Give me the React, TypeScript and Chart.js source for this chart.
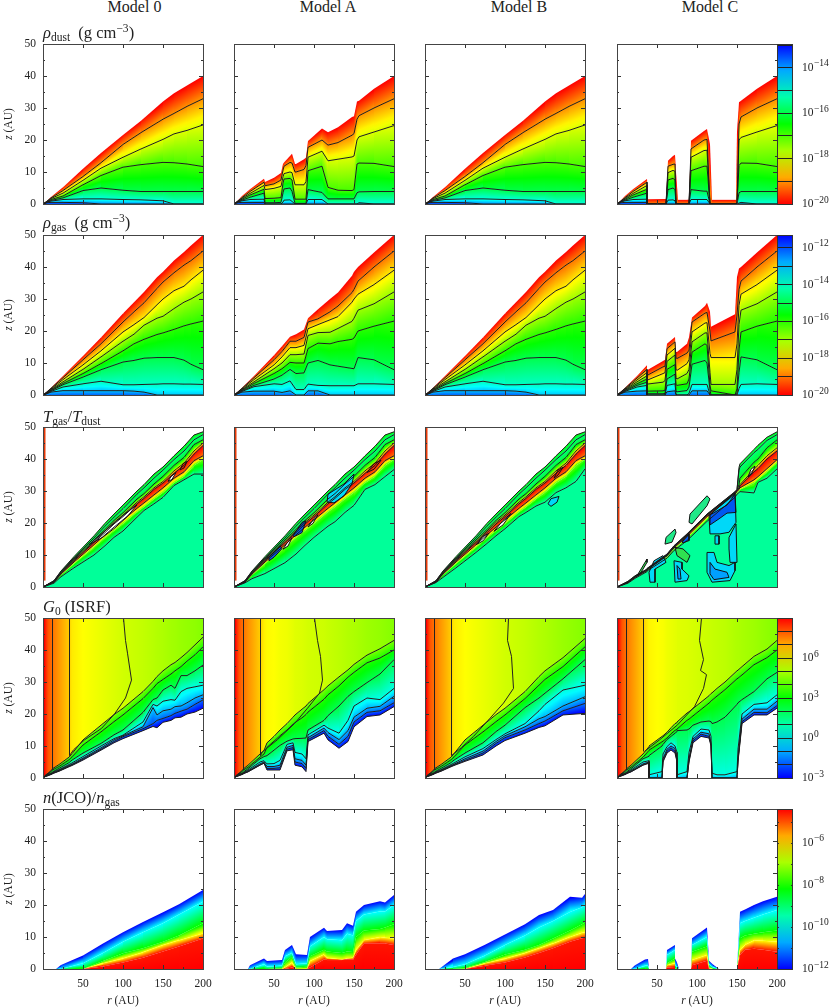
import React, { useEffect, useRef } from "react";
import { Chart, registerables } from "chart.js";

Chart.register(...registerables);

const FONT = "'Liberation Serif', serif";
const INK = "#222";
const COL_X = [43, 234, 425, 617];
const ROW_Y = [44, 235, 427, 618, 809];
const MODELS = ["Model 0", "Model A", "Model B", "Model C"];
const MODEL_CX = [134.5, 328, 519, 710];
const X_LABELS = [50, 100, 150, 200];
const Y_MAJOR = [0, 10, 20, 30, 40, 50];
const Y_MINOR = [5, 15, 25, 35, 45];
const X_MAJOR = [50, 100, 150];
const X_MINOR = [25, 75, 125, 175];

// ---- rho_dust (levels: ground, 1e-14 ... 1e-19, surface 1e-20)
const dustV = [0.95, 0.857, 0.714, 0.571, 0.429, 0.286, 0.143, 0];
const dustC = [false, true, true, true, true, true, true, false];
const d0R = [0, 5, 10, 25, 50, 72, 100, 122, 150, 164, 180, 200];
const d0S = [0, 1, 2.2, 5.2, 11, 15.9, 21.6, 26, 32, 34.6, 37, 40];
const d019 = [0, 0.9, 1.9, 4.2, 8.6, 12.9, 18.6, 22.3, 26.5, 28.3, 30.5, 32.9];
const d018 = [0, 0.8, 1.7, 3.4, 7.4, 11.2, 14.6, 17.2, 20.2, 21.9, 23, 24.7];
const d017 = [0, 0.7, 1.4, 2.5, 6, 8.9, 11.5, 12.3, 13, 12.9, 12.5, 11.7];
const d016 = [0, 0.6, 1.1, 1.9, 4.2, 5, 4.3, 3.9, 3.9, 3.9, 3.9, 3.9];
const d015 = [0, 0.5, 0.9, 1.4, 1.6, 1.6, 1.4, 1.3, 1, 0, 0, 0];
const d014 = [0, 0.4, 0.5, 0.5, 0.4, 0, 0, 0, 0, 0, 0, 0];

const dAR = [0, 5, 10, 20, 37, 39, 50, 59, 61, 63, 70, 73, 76, 78, 88, 90, 93, 110, 118, 130, 148, 150, 154, 156, 175, 200];
const dAS = [0, 1.2, 2.5, 4.6, 7.9, 6.9, 8.2, 9.7, 12.5, 13, 15, 15.7, 12.5, 12.5, 14, 14.5, 19.7, 23.6, 22.4, 24, 27.2, 27.4, 32, 32.3, 36, 40];
const dA19 = [0, 1, 2, 3.9, 6.8, 5.7, 6.3, 7.5, 10.6, 11.8, 13, 12.8, 10, 10, 10.8, 12, 17.7, 20, 18.4, 19.2, 21.5, 22, 26.5, 27.6, 30, 32.9];
const dA18 = [0, 0.9, 1.8, 3.3, 5.8, 4.5, 4.9, 5.5, 8.5, 9.5, 10, 9.8, 6, 6, 6, 7, 14.6, 16.5, 13.5, 14, 14.7, 15, 20, 21, 22.5, 24.5];
const dA17 = [0, 0.8, 1.5, 2.8, 4.6, 1.7, 1.8, 2, 6.5, 7.8, 8, 7.5, 1.5, 1.5, 1.5, 1.5, 10.4, 11.8, 5.2, 4.3, 4.2, 4.5, 12.5, 12.8, 12.7, 11.7];
const dA16 = [0, 0.7, 1.2, 2.1, 3.4, 0.4, 0.4, 0.5, 3.5, 4.7, 5, 4, 0.2, 0.2, 0.2, 0.2, 4.5, 3.6, 1.6, 1.6, 1.6, 1.6, 3.5, 3.8, 3.9, 3.9];
const dA15 = [0, 0.6, 1, 1.4, 1.5, 0, 0, 0, 0.6, 1.2, 1.3, 0.8, 0, 0, 0, 0, 1.4, 1.4, 0, 0, 0, 0, 0, 0.4, 0, 0];
const dA14 = [0, 0.4, 0.5, 0.5, 0.5, 0, 0, 0, 0, 0, 0, 0, 0, 0, 0, 0, 0, 0, 0, 0, 0, 0, 0, 0, 0, 0];

const dCR = [0, 5, 10, 20, 37, 38, 39, 59, 61, 64, 70, 72, 74, 76, 88, 90, 93, 109, 113, 116, 119, 149, 150, 152, 155, 175, 200];
const dCS = [0, 1.2, 2.5, 4.6, 7.8, 7.8, 1.5, 1.6, 1.6, 13.5, 15, 15.4, 10, 1.3, 1.3, 1.3, 19.8, 22.8, 23.4, 18.7, 1.3, 1.3, 22.6, 31.8, 32.3, 36, 40];
const dC19 = [0, 1, 2, 3.9, 6.8, 0, 0, 0, 0, 11.8, 12.4, 12.5, 0, 0, 0, 0, 17.2, 20, 20.2, 0, 0, 0, 0, 25, 27.2, 30, 32.9];
const dC18 = [0, 0.9, 1.8, 3.3, 5.8, 0, 0, 0, 0, 9.8, 10.5, 10.2, 0, 0, 0, 0, 14.6, 16.7, 16.8, 0, 0, 0, 0, 20, 20.8, 22.5, 24.5];
const dC17 = [0, 0.8, 1.5, 2.8, 4.6, 0, 0, 0, 0, 7.5, 8, 7.5, 0, 0, 0, 0, 10.4, 11.8, 11.8, 0, 0, 0, 0, 12, 12.8, 12.7, 11.7];
const dC16 = [0, 0.7, 1.2, 2.1, 3.4, 0, 0, 0, 0, 4.5, 5, 4.5, 0, 0, 0, 0, 4.5, 4, 4, 0, 0, 0, 0, 3.5, 3.9, 3.9, 3.9];
const dC15 = [0, 0.6, 1, 1.4, 1.5, 0, 0, 0, 0, 1.2, 1.3, 1, 0, 0, 0, 0, 1.4, 1.4, 1.4, 0, 0, 0, 0, 0.3, 0.5, 0, 0];
const dC14 = [0, 0.4, 0.5, 0.5, 0.5, 0, 0, 0, 0, 0, 0, 0, 0, 0, 0, 0, 0, 0, 0, 0, 0, 0, 0, 0, 0, 0, 0];

// ---- rho_gas
const gasV = [0.9, 0.805, 0.69, 0.575, 0.46, 0.345, 0.23, 0.115, 0];
const gasC = [false, true, true, true, true, true, true, true, false];
const g0R = [0, 5, 10, 25, 50, 72, 100, 114, 126, 143, 150, 164, 176, 185, 200];
const g0S = [0, 1.1, 2.3, 5.9, 12.2, 18, 25.5, 29, 32.2, 36.8, 38.5, 42, 44.7, 46.7, 50];
const g019 = [0, 1, 2.1, 5.4, 11, 16, 22.8, 26, 28.8, 33.3, 35.3, 38.2, 40.6, 42, 45];
const g018 = [0, 0.9, 1.9, 4.8, 9.4, 13.8, 19.7, 22, 24.2, 28.2, 30, 32.6, 34, 36, 39];
const g017 = [0, 0.8, 1.7, 4.1, 8, 11.9, 16.8, 19, 21.8, 24, 24.6, 27, 29, 30, 32.2];
const g016 = [0, 0.7, 1.5, 3.6, 6.7, 9.8, 13.8, 16, 17.4, 18.9, 19.4, 20.5, 21.6, 22.2, 23.1];
const g015 = [0, 0.6, 1.3, 3.2, 5.6, 7.9, 10.3, 10.8, 11.5, 11.7, 11.7, 11.7, 10.9, 9.6, 7.9];
const g014 = [0, 0.5, 1.1, 2.5, 3.5, 4.3, 3.2, 3.2, 3.3, 3.4, 3.5, 3.5, 3.4, 3.4, 3.3];
const g013 = [0, 0.4, 0.9, 1.35, 1.35, 1.35, 1.35, 1.2, 0.9, 0, 0, 0, 0, 0, 0];

const gAR = [0, 5, 10, 25, 50, 60, 70, 78, 88, 93, 105, 120, 130, 147, 150, 155, 175, 200];
const gAS = [0, 1.1, 2.3, 5.9, 12.4, 15.2, 18.2, 19, 20.5, 24, 26.8, 30, 32, 37.3, 38.5, 40, 44.5, 50];
const gA19 = [0, 1, 2.1, 5.4, 11, 13.6, 16.8, 16.8, 18, 22.8, 23.8, 26, 27.8, 32, 33, 35.6, 40, 45];
const gA18 = [0, 0.9, 1.9, 4.8, 9.4, 11.9, 14.8, 14.8, 15.5, 20.7, 22, 23.5, 24.5, 29, 30, 31.5, 34.5, 39];
const gA17 = [0, 0.8, 1.7, 4.1, 8.2, 10, 12.6, 12.6, 12.8, 18.6, 19.5, 19.6, 20.8, 23, 24, 26.5, 28.5, 32.2];
const gA16 = [0, 0.7, 1.5, 3.6, 6.7, 8.2, 10.2, 10, 10, 14.5, 16.2, 16, 16.7, 17.4, 17.8, 20, 21.5, 23.1];
const gA15 = [0, 0.6, 1.3, 3, 5, 6.2, 8, 6.7, 6.9, 10, 10.8, 9.4, 9, 8.3, 8.2, 11.7, 11, 7.9];
const gA14 = [0, 0.5, 1.1, 2.6, 3.5, 3.3, 4.4, 1.7, 1.7, 3.4, 3, 2.9, 2.9, 2.9, 2.9, 3.5, 3.5, 3.3];
const gA13 = [0, 0.4, 0.9, 1.2, 1.2, 0.8, 1.3, 0, 0, 1.3, 1.3, 0, 0, 0, 0, 0, 0, 0];

const gCR = [0, 5, 10, 25, 37, 38, 58, 60, 63, 72, 74, 75, 87, 90, 94, 110, 113, 116, 117, 148, 150, 152, 155, 175, 200];
const gCS = [0, 1.1, 2.3, 5.9, 9.3, 7.7, 10.6, 11, 16, 18.1, 13.4, 13.4, 16, 18, 24.2, 27.8, 28.8, 26, 21.3, 25.2, 36.9, 39.5, 40, 44.5, 50];
const gC19 = [0, 1, 2.1, 5.3, 8, 6.1, 8.8, 9, 14.5, 16.6, 11.6, 11.4, 13.1, 14, 22.8, 25.6, 25.8, 20, 16.9, 19.7, 25, 33, 35.6, 40, 45];
const gC18 = [0, 0.9, 1.9, 4.7, 7, 4.6, 6.7, 7, 12.5, 14.6, 8, 7.7, 9.8, 11, 19.7, 22.5, 22.6, 13, 11.7, 11.7, 16, 28, 31.5, 34.5, 39];
const gC17 = [0, 0.8, 1.7, 4.1, 6, 3.4, 4, 4.5, 10.5, 12.5, 5.4, 5, 6.7, 8, 16.6, 19.4, 19.4, 7, 3.3, 3.3, 8, 22, 26.5, 28.5, 32.2];
const gC16 = [0, 0.7, 1.5, 3.5, 5, 1.2, 1.3, 1.5, 8, 9.5, 3.2, 3, 3.5, 5, 13.4, 16, 15.5, 3, 1.3, 0, 2, 14, 19.7, 21.5, 23.1];
const gC15 = [0, 0.6, 1.3, 3, 4, 0.4, 0.4, 0.5, 5, 6.5, 1.2, 1, 1.4, 2.5, 9.6, 10.8, 10, 1.5, 0, 0, 0.5, 7, 11.9, 11, 7.9];
const gC14 = [0, 0.5, 1.1, 2.5, 3, 0, 0, 0, 3, 3.5, 0.3, 0, 0, 0.5, 3.3, 3.3, 3.3, 0, 0, 0, 0, 2, 3.3, 3.5, 3.3];
const gC13 = [0, 0.4, 0.9, 1.2, 1.3, 0, 0, 0, 1, 1.3, 0, 0, 0, 0, 1.3, 1.3, 1.3, 0, 0, 0, 0, 0, 0, 0, 0];

// ---- Tgas/Tdust
const tV = [0.65, 0.65, 0.42, 0.1, 0, 0.3, 0.55, 0.62, 0.5];
const tC = [false, true, false, true, true, true, true, true, true];
const tR = [0, 14, 22, 39, 64, 78, 89, 100, 118, 126, 139, 150, 164, 176, 189, 200];
const tS = [0, 2, 5, 9.5, 16, 19.9, 22.8, 25.6, 30, 32, 35.3, 37.5, 41, 44, 47.5, 48.5];
const t6 = [0, 1.9, 4.8, 9.1, 15.3, 19, 21.8, 24.5, 29, 31, 34, 36.5, 39.8, 42.5, 46, 47.6];
const t5 = [0, 1.8, 4.6, 8.8, 14.7, 18, 20.8, 23.2, 27.5, 29.2, 32.2, 34.6, 38, 40.5, 44.5, 46];
const t4 = [0, 1.7, 4.4, 8.5, 14.2, 17.5, 20.2, 22.5, 26.5, 28.2, 31, 33, 36.3, 38.7, 42.5, 45];
const t3 = [0, 1.6, 4.2, 8.2, 13.9, 17, 19.7, 22, 26, 27.7, 30.5, 32.5, 35.5, 38, 41.5, 44.2];
const t2 = [0, 1.5, 4, 7.8, 13.2, 16.3, 18.7, 21, 24.6, 26.3, 28.8, 31, 34, 36, 39.5, 41];
const t1 = [0, 1.4, 3.7, 7.3, 12.4, 15.4, 17.6, 19.8, 23.4, 25, 27.5, 29.5, 32.5, 34.5, 38, 39.8];
const t00 = [0, 1.2, 3.2, 6, 10, 12.9, 15.5, 17.5, 21.8, 23.9, 26, 28, 31.7, 33.5, 35.3, 35.3];
const t0A = [0, 1.3, 2.6, 4.2, 7.6, 10.3, 13, 15.5, 19, 20.4, 23.3, 25.5, 30.5, 32, 34.5, 36.7];
const t0B = [0, 1.4, 3, 6, 10.8, 13.6, 16, 18.2, 22, 23.3, 25.3, 26.5, 29.5, 31, 33, 36.9];

const tCR = [0, 14, 22, 37, 38, 62, 71, 87, 112, 148, 150, 152, 154, 171, 176, 187, 200];
const tCS = [0, 1.8, 3.5, 5.6, 5.8, 10.3, 12.9, 16.6, 22.8, 29.8, 30.5, 37.4, 38.5, 43, 44.3, 46.8, 48.5];
const tC6 = [0, 1.7, 3.4, 5.5, 5.7, 10.2, 12.8, 16.5, 22.7, 29.7, 30.4, 36.5, 37.5, 42, 43, 45.8, 47.6];
const tC5 = [0, 1.6, 3.3, 5.4, 5.6, 10.1, 12.7, 16.4, 22.6, 29.6, 30.3, 32, 34, 39, 40, 43.5, 46];
const tC4 = [0, 1.5, 3.2, 5.3, 5.5, 10, 12.6, 16.3, 22.5, 29.5, 30.2, 31, 32, 36.8, 38, 41, 43.5];
const tC3 = [0, 1.45, 3.1, 5.25, 5.4, 9.9, 12.5, 16.2, 22.4, 29.4, 30.1, 30.8, 31.6, 36, 37, 40, 42.5];
const tC2 = [0, 1.4, 3, 5.2, 5.3, 9.7, 12.2, 15.8, 22, 29, 29.8, 30.5, 31, 33.5, 34.5, 37, 39.8];
const tC1 = [0, 1.3, 2.9, 5.1, 5.2, 9.4, 11.8, 15.2, 21.2, 28.5, 29.4, 30, 30.4, 32.5, 33.5, 36, 38.8];
const tC0 = [0, 1.2, 2.7, 4.8, 5, 9, 11.4, 14.5, 20.5, 28, 29, 29.5, 29.8, 29.4, 32.7, 34, 36.9];

const WHITE = "#ffffff";
const CYAN = "#00d8f8";
const BLUE = "#0058f0";
const MID = "#00a0ff";
const GRN = "#30e050";
const ISLE = "#20e888";
const RED = "#ff2000";
const tBlobs0 = [
  { fill: WHITE, pts: [[58, 13.2], [75, 17], [90, 20.2], [105, 23.4], [118, 25.7], [105, 21.9], [90, 18.5], [75, 15.6]] },
  { fill: WHITE, pts: [[156, 33], [160, 34.5], [166, 35.8], [161, 33.6]] },
  { fill: RED, pts: [[171, 36.6], [175, 38.6], [180, 39.2], [176, 37.2]] },
];
const tBlobsA = [
  { fill: CYAN, pts: [[116, 26.5], [118, 29], [137, 32.2], [149.6, 35.3], [147.5, 32.2], [137, 28.5], [124.6, 26.3]] },
  { fill: BLUE, pts: [[73.8, 16], [85, 20.2], [90.4, 20.7], [85, 17], [74.6, 15.7]] },
  { fill: BLUE, pts: [[43.3, 9.3], [58, 12.9], [60, 12], [49.6, 9.3], [43.3, 8.2]] },
  { fill: WHITE, pts: [[92, 18.8], [100, 21.4], [105, 22.6], [99, 19.9]] },
  { fill: WHITE, pts: [[61, 11.8], [67, 14.2], [73, 15.4], [67, 12.8]] },
  { fill: RED, pts: [[166, 35.8], [175, 38.6], [184, 39.6], [175, 36.8]] },
];
const tBlobsB = [
  { fill: WHITE, pts: [[86, 17.4], [97, 20.8], [108, 23], [97, 19.4]] },
  { fill: WHITE, pts: [[64, 13.2], [72, 15.8], [80, 16.8], [72, 14.4]] },
  { fill: CYAN, pts: [[154, 26], [157, 27.6], [168, 28.3], [165, 26.5], [157, 25.2]] },
  { fill: RED, pts: [[161, 34], [166, 36.6], [173, 37.4], [166, 35]] },
];
const tBlobsC = [
  { fill: BLUE, pts: [[115.8, 22.5], [137.5, 25.6], [148, 29], [149, 23.3], [137.5, 23.1], [127, 21.3], [116.7, 19.4]] },
  { fill: CYAN, pts: [[115, 22.3], [148, 29.4], [149, 20.2], [139.6, 17.1], [129, 16.6], [116, 16.6]] },
  { fill: MID, pts: [[116.7, 7.7], [123, 5.6], [137.5, 4.6], [139.6, 3], [120.8, 2.3], [116.7, 4.1]] },
  { fill: CYAN, pts: [[113, 10.8], [121, 10.8], [125, 7.7], [139.6, 6.7], [148, 7.7], [148, 5.1], [141.7, 2], [118.8, 1.5], [113, 4.6]] },
  { fill: CYAN, pts: [[139.6, 15.5], [149, 19.7], [150, 7.7], [141.7, 7.7], [139.6, 11.9]] },
  { fill: CYAN, pts: [[122, 16], [127, 16], [127, 13.4], [123, 13.4]] },
  { fill: MID, pts: [[75, 6.7], [79, 5.6], [80, 2.5], [75.8, 2.5]] },
  { fill: CYAN, pts: [[71.7, 8.2], [81, 7.7], [81, 5.6], [89.6, 3.5], [87.5, 2], [73, 1.5]] },
  { fill: CYAN, pts: [[39.6, 4.6], [45.8, 8.2], [58, 9.8], [61.7, 7.7], [48, 5.6], [48, 1.5], [41.7, 1.5]] },
  { fill: BLUE, pts: [[81, 14], [89.6, 16.6], [89.6, 14.5], [83, 13.8]] },
  { fill: GRN, pts: [[73, 12.4], [83, 11.9], [91.7, 9.8], [87.5, 7.7], [75, 9.8]] },
  { fill: ISLE, pts: [[59.6, 13.4], [61, 15.5], [73, 18.1], [74, 17], [68.8, 14]] },
  { fill: ISLE, pts: [[89.6, 20.2], [90.8, 22.8], [112.5, 28.5], [115.8, 27.5], [112.5, 25.4], [93.8, 19.7]] },
  { fill: GRN, pts: [[25, 3.5], [37.5, 8.75], [38, 7.7], [29, 4]] },
  { fill: WHITE, pts: [[164, 34.4], [168, 36.8], [173, 37.8], [169, 35.6]] },
];
const tRedR = [1, 1];
const tRedZ = [2, 50];

// ---- G0
const isrfV = [1, 0.9, 0.82, 0.72, 0.58, 0.47, 0.38, 0.38];
const isrfC = [true, true, true, true, true, true, true, false];
const f0R = [0, 3, 6, 11, 13, 20, 32.5, 36, 50, 72, 89, 100, 125, 137, 143, 150, 160, 165, 172, 180, 190, 200];
const f0Top = [-0.1, 0.02, 0.08, 0.11, 0.115, 0.15, 0.2, 0.23, 0.25, 0.27, 0.285, 0.295, 0.31, 0.32, 0.325, 0.33, 0.34, 0.343, 0.35, 0.355, 0.36, 0.37];
const f0Edge = [0, 0.4, 0.7, 1.2, 1.4, 2.1, 3.5, 3.9, 5.6, 8.7, 11, 12.3, 14.8, 16.1, 15.7, 17.4, 18, 18.8, 19, 20, 20.6, 21.8];
const f06 = [0, 0.45, 0.8, 1.3, 1.5, 2.2, 3.7, 4.1, 5.9, 9, 11.4, 12.9, 15.4, 17, 18, 18.6, 19.5, 20.2, 20.9, 21.5, 23, 24.4];
const f05 = [0, 0.5, 0.9, 1.4, 1.6, 2.4, 3.9, 4.3, 6.2, 9.4, 11.9, 13.2, 16, 22, 19.7, 21, 21.5, 22.3, 22.5, 23.5, 25, 26];
const f04 = [0, 0.55, 1, 1.5, 1.8, 2.6, 4.2, 4.7, 6.7, 10, 12.3, 13.4, 17.5, 23, 22.5, 24, 24.5, 24.3, 27, 28, 28.5, 29];
const f03 = [0, 0.6, 1.1, 1.7, 2, 3, 4.8, 5.6, 7.8, 10.8, 13.5, 15, 20.5, 24.5, 25, 27.5, 29, 28, 32, 32, 33.5, 35.3];
const f02 = [0, 0.7, 1.3, 2.3, 2.6, 3.6, 5.7, 6.6, 10.3, 14.4, 17.6, 19.7, 24.8, 28, 29.5, 30.8, 32.5, 33.5, 34.8, 36.5, 38.5, 41];
const f01 = [0, 0.8, 1.5, 2.6, 3, 4.2, 6.5, 7.6, 11.9, 16.5, 19.8, 21.8, 27, 30.2, 31.7, 33.5, 35.4, 36.1, 37.6, 39.2, 41.6, 44];

const fR = [0, 3, 6, 11, 13, 20, 32.5, 36, 50, 72, 89, 100, 125, 143, 150, 172, 200];
const fTop = [-0.1, 0.02, 0.08, 0.11, 0.115, 0.15, 0.2, 0.23, 0.25, 0.27, 0.285, 0.295, 0.31, 0.325, 0.33, 0.35, 0.37];
const fEdgeB = [0, 0.4, 0.7, 1.2, 1.4, 2.1, 3.5, 3.9, 5.2, 7.2, 10, 11.7, 14, 15.8, 16.3, 19.7, 20.2];
const fB6 = [0, 0.45, 0.8, 1.3, 1.5, 2.2, 3.7, 4.1, 5.5, 7.8, 10.8, 12.6, 15, 17, 17.8, 21, 23.3];
const fB5 = [0, 0.5, 0.9, 1.4, 1.6, 2.4, 3.9, 4.3, 6, 8.4, 11.4, 13.2, 16, 18.5, 19.2, 22.5, 25.4];
const fB4 = [0, 0.55, 1, 1.5, 1.8, 2.6, 4.2, 4.7, 6.6, 9.2, 12, 13.8, 17, 21, 23, 27.5, 29];
const fB3 = [0, 0.6, 1.1, 1.7, 2, 3, 4.8, 5.6, 7.8, 11, 14.5, 16.5, 22, 25, 26.5, 31, 37];
const fB2 = [0, 0.7, 1.3, 2.3, 2.6, 3.6, 5.7, 6.6, 10.3, 14.4, 17.6, 19.7, 24.8, 29, 30.8, 34.8, 41];
const fB1 = [0, 0.8, 1.5, 2.6, 3, 4.2, 6.5, 7.6, 11.9, 16.5, 19.8, 21.8, 27, 31.7, 33.5, 37.6, 43.6];

const fAR = [0, 3, 6, 11, 13, 18, 32.5, 37, 41, 50, 58, 66, 74, 76, 85, 90, 93, 112, 118, 131, 143, 150, 166, 183, 200];
const fATop = [-0.1, 0.02, 0.08, 0.11, 0.115, 0.14, 0.2, 0.235, 0.245, 0.25, 0.26, 0.265, 0.275, 0.28, 0.285, 0.29, 0.293, 0.3, 0.305, 0.315, 0.325, 0.33, 0.345, 0.355, 0.37];
const fAEdge = [0, 0.4, 0.7, 1.2, 1.4, 1.9, 4, 4.6, 2.5, 2.5, 2.5, 8.5, 8.8, 4, 3.5, 2, 11.4, 14, 11.9, 9.3, 11.4, 16, 19.2, 19.7, 22.3];
const fA6 = [0, 0.45, 0.8, 1.3, 1.5, 2, 4.1, 4.7, 3, 3, 3.2, 9, 9.5, 5, 4.5, 3, 12, 14.8, 13, 10.5, 13, 17.5, 20.5, 21, 23.5];
const fA5 = [0, 0.5, 0.9, 1.4, 1.6, 2.2, 4.4, 5, 3.6, 3.6, 4, 9.6, 10.2, 6, 5.5, 4, 12.6, 15.6, 14.2, 12, 14.8, 19, 21.8, 22.4, 25.5];
const fA4 = [0, 0.55, 1, 1.5, 1.8, 2.5, 5, 5.4, 4.4, 4.5, 5.5, 10.5, 11, 8, 7.5, 6, 13.5, 16.5, 15.6, 14, 18, 22.5, 25, 24.5, 28];
const fA3 = [0, 0.6, 1.1, 1.7, 2, 2.9, 6, 6.7, 7, 8.7, 10.2, 11.5, 12.2, 12.3, 12.4, 12.5, 15, 18, 19.5, 22.5, 25.5, 27, 29.8, 32.5, 37];
const fA2 = [0, 0.7, 1.3, 2.3, 2.6, 3.4, 6.5, 7.5, 9.6, 11.5, 13.2, 15, 16.8, 17.3, 18.8, 19.8, 20.6, 24.6, 26, 28.8, 31.5, 33, 36, 37.5, 40];
const fA1 = [0, 0.8, 1.5, 2.6, 3, 4, 7.5, 8.6, 11, 13, 15, 17, 19, 19.7, 21.5, 22.5, 23.3, 27.6, 28.8, 31.6, 33.8, 35.5, 38.4, 40.4, 43];

const fCR = [0, 3, 6, 11, 13, 18, 32.5, 39.6, 40, 56, 57, 62, 68, 73, 74.5, 75, 88, 90, 95, 105, 115, 118, 119, 125, 135, 150, 151, 156, 171, 187, 200];
const fCTop = [-0.1, 0.02, 0.08, 0.11, 0.115, 0.14, 0.2, 0.24, 0.24, 0.255, 0.255, 0.265, 0.27, 0.275, 0.278, 0.28, 0.285, 0.287, 0.29, 0.297, 0.303, 0.305, 0.306, 0.31, 0.315, 0.33, 0.33, 0.335, 0.345, 0.36, 0.37];
const fCEdge = [0, 0.4, 0.7, 1.2, 1.4, 1.9, 4, 4.6, 0, 0, 5, 7.8, 8.75, 7.8, 5, 0, 0, 5, 11, 13, 12.5, 10, 0, 0, 0, 0, 5, 17, 19.7, 19.7, 21.8];
const fC6 = [0, 0.45, 0.8, 1.3, 1.5, 2, 4.1, 4.8, 0, 0, 5.4, 8.4, 9.4, 8.4, 5.4, 0, 0, 5.4, 11.6, 13.7, 13, 10.4, 0, 0, 0, 0, 5.6, 17.6, 20.5, 20.4, 22.6];
const fC5 = [0, 0.5, 0.9, 1.4, 1.6, 2.2, 4.4, 5, 0, 0, 6, 9, 10, 9.2, 6, 0, 0, 6, 12.2, 14.3, 13.8, 11, 0, 0, 0, 0, 6, 18.4, 21.5, 21.5, 24];
const fC4 = [0, 0.55, 1, 1.5, 1.8, 2.5, 5, 5.4, 1, 2, 7.5, 9.8, 11, 10, 8, 1, 2, 8, 13, 15.3, 15, 13, 1.5, 1, 1, 2, 9, 20, 23, 23.5, 26];
const fC3 = [0, 0.6, 1.1, 1.7, 2, 2.9, 6, 6.8, 7, 10, 10.5, 12, 13, 14, 14.5, 14.8, 15, 15.3, 16.5, 17.5, 17.8, 17.6, 17, 17.5, 19, 23, 23.5, 24.5, 27, 31, 33];
const fC2 = [0, 0.7, 1.3, 2.3, 2.6, 3.4, 6.5, 8.6, 8.7, 11.3, 11.5, 12.5, 13.8, 14.9, 15.2, 15.3, 18, 18.4, 19.4, 21.4, 23.4, 24, 24.3, 25.6, 27.6, 31, 31.2, 32.2, 35.4, 37.6, 40];
const fC1 = [0, 0.8, 1.5, 2.6, 3, 4, 7.5, 9.8, 10, 13, 13.2, 14.3, 15.7, 17, 17.3, 17.5, 20.3, 20.7, 21.7, 23.7, 25.7, 26.4, 26.6, 28, 30, 33.5, 33.7, 34.8, 38, 40.3, 43];

const wave0R = [100, 102, 105, 110, 103, 89, 72, 51, 37, 32.5];
const wave0Z = [50, 43, 39, 30.6, 25, 20, 15.5, 11.9, 8.8, 7];
const waveAR = [100, 104, 107, 110, 106, 91, 74.6, 54, 35, 32];
const waveAZ = [50, 43, 38, 30.6, 26.5, 21.8, 17, 12, 8.2, 7];
const waveBR = [104, 102, 107, 110, 98, 80, 60, 45, 33];
const waveBZ = [50, 43, 38, 28, 23.4, 18.5, 13, 9.5, 7];
const waveCR = [105, 103, 107.5, 104, 111.7, 107.5, 96, 75, 52, 34];
const waveCZ = [50, 43, 37, 33.6, 32.3, 28, 22.3, 16.6, 11.9, 8.3];
const stemZ = [2.5, 50];
const stem1R = [11, 11];
const stem2R = [32.5, 32.5];

// ---- n(JCO)/n_gas
const coV = [0, 0.02, 0.25, 0.5, 0.75, 1];
const coC = [false, false, false, false, false, false];
const c0R = [0, 16, 22, 50, 75, 100, 125, 150, 170, 200];
const c0S = [0, 0, 1.25, 4.2, 8, 11.5, 14.7, 17.7, 20.2, 24.7];
const c0C = [0, 0, 0, 1.8, 5, 8.5, 11.5, 14.3, 17, 21];
const c0G = [0, 0, 0, 0, 2.5, 4.9, 6.5, 8.5, 10.5, 14.3];
const c0Y = [0, 0, 0, 0, 1.8, 3.3, 5.2, 7.5, 9, 11.1];
const c0O = [0, 0, 0, 0, 0.8, 2, 3.5, 5.5, 7, 9.5];
const cAR = [0, 18, 20, 37, 41, 60, 64, 72, 77, 91, 95, 112, 116, 135, 141, 149, 153, 162, 183, 189, 200];
const cAS = [0, 0, 1.2, 3.3, 2.5, 2.8, 5.9, 7.5, 4.6, 4.4, 10, 12.9, 11.9, 12.2, 14.3, 13.5, 17.9, 20, 21.2, 20.8, 23.1];
const cAC = [0, 0, 0, 1.5, 0.8, 1, 4, 5, 1.5, 1.8, 7, 10, 9.3, 9, 11, 10.5, 15, 17, 18, 18, 20];
const cAG = [0, 0, 0, 0, 0, 0.3, 2, 3.8, 0.5, 0.7, 4, 6, 5.5, 5, 5.5, 5.3, 10, 12, 12.5, 13, 14];
const cAY = [0, 0, 0, 0, 0, 0, 0.5, 2, 0, 0, 2.5, 4.5, 3.5, 3, 3.3, 3.5, 6, 9, 10, 9.8, 9.5];
const cAO = [0, 0, 0, 0, 0, 0, 0, 0.5, 0, 0, 0.5, 3, 2.8, 2.8, 3, 3, 4.5, 8, 8, 8, 7.5];
const cBR = [0, 17, 35, 50, 75, 100, 125, 142, 160, 181, 196, 200];
const cBS = [0, 0, 3.3, 4.6, 7.6, 10.8, 14, 16.9, 18.4, 22.6, 22.3, 23.4];
const cBC = [0, 0, 0.6, 1.5, 4.2, 7.5, 10.5, 13, 15, 17.8, 19.3, 20];
const cBG = [0, 0, 0, 0.3, 2.2, 4.5, 6, 7.5, 9.5, 12, 14, 14.5];
const cBY = [0, 0, 0, 0, 1.8, 3.2, 5, 6.5, 8, 10, 11.3, 11.5];
const cBO = [0, 0, 0, 0, 1, 2, 3.6, 5, 6.5, 8.5, 9.6, 9.8];
const cCR = [0, 17, 23, 35, 38.7, 39.5, 61, 63, 72, 73, 75, 78, 92, 94, 113, 114.6, 120, 127, 150, 154, 160, 171, 183, 200];
const cCS = [0, 0, 1.2, 3, 3.1, 0, 0, 5.9, 7.5, 3.3, 2, 0, 0, 9.6, 13, 2.6, 1.4, 0, 0, 17.9, 18.6, 20, 21.2, 22.6];
const cCC = [0, 0, 0, 1, 1.2, 0, 0, 4.4, 5.9, 1.5, 0.5, 0, 0, 7.5, 10, 1.5, 0.5, 0, 0, 14.3, 15, 16, 17, 18.4];
const cCG = [0, 0, 0, 0, 0, 0, 0, 1.8, 3.3, 0.3, 0, 0, 0, 5.4, 7, 0.8, 0, 0, 0, 9.6, 10.5, 11, 11.5, 12];
const cCY = [0, 0, 0, 0, 0, 0, 0, 1.2, 1.8, 0, 0, 0, 0, 2.8, 4.4, 0.3, 0, 0, 0, 6, 7.5, 9, 8.8, 8.5];
const cCO = [0, 0, 0, 0, 0, 0, 0, 0.5, 0.6, 0, 0, 0, 0, 1.2, 2.6, 0, 0, 0, 0, 4.4, 6, 6.3, 6, 5.4];

// ---- colour bars (exponents)
const barDust = { min: -20, max: -12.95, ticks: [-20, -19, -18, -17, -16, -15, -14, -13], labels: [-20, -18, -16, -14], up: true, lines: true };
const barGas = { min: -20, max: -11.3, ticks: [-20, -19, -18, -17, -16, -15, -14, -13, -12], labels: [-20, -18, -16, -14, -12], up: true, lines: true };
const barIsrf = { min: -3, max: 9, ticks: [-3, -2, -1, 0, 1, 2, 3, 4, 5, 6, 7, 8], labels: [-3, 0, 3, 6], up: false, lines: true };
const barCo = { min: -12, max: -4.4, ticks: [-12, -11, -10, -9, -8, -7, -6, -5], labels: [-12, -10, -8, -6], up: false, lines: false };

type Blob = { fill: string; pts: number[][] };
type Extra = { r: number[]; z: number[]; color?: string; width?: number };
type PanelCfg = { r: number[]; lines: (number[] | null)[]; v: number[]; c: boolean[]; top?: number[]; blobs?: Blob[]; extra?: Extra[] };

const dust = (r: number[], l: number[][]): PanelCfg => ({ r, lines: [null, ...l], v: dustV, c: dustC });
const gas = (r: number[], l: number[][]): PanelCfg => ({ r, lines: [null, ...l], v: gasV, c: gasC });
const temp = (r: number[], l: number[][], blobs: Blob[]): PanelCfg => ({
  r, lines: [null, ...l], v: tV, c: tC, blobs, extra: [{ r: tRedR, z: tRedZ, color: "#e83a08", width: 2 }],
});
const isrf = (r: number[], top: number[], l: number[][], wr: number[], wz: number[], s2: number[]): PanelCfg => ({
  r, top, lines: [...l, r.map(() => 50)], v: isrfV, c: isrfC,
  extra: [{ r: stem1R, z: stemZ }, { r: s2, z: [wz[wz.length - 1], 50] }, { r: wr, z: wz }],
});
const co = (r: number[], l: number[][]): PanelCfg => ({ r, lines: [null, ...l], v: coV, c: coC });

const PANELS: PanelCfg[][] = [
  [
    dust(d0R, [d014, d015, d016, d017, d018, d019, d0S]),
    dust(dAR, [dA14, dA15, dA16, dA17, dA18, dA19, dAS]),
    dust(d0R, [d014, d015, d016, d017, d018, d019, d0S]),
    dust(dCR, [dC14, dC15, dC16, dC17, dC18, dC19, dCS]),
  ],
  [
    gas(g0R, [g013, g014, g015, g016, g017, g018, g019, g0S]),
    gas(gAR, [gA13, gA14, gA15, gA16, gA17, gA18, gA19, gAS]),
    gas(g0R, [g013, g014, g015, g016, g017, g018, g019, g0S]),
    gas(gCR, [gC13, gC14, gC15, gC16, gC17, gC18, gC19, gCS]),
  ],
  [
    temp(tR, [t00, t1, t2, t3, t4, t5, t6, tS], tBlobs0),
    temp(tR, [t0A, t1, t2, t3, t4, t5, t6, tS], tBlobsA),
    temp(tR, [t0B, t1, t2, t3, t4, t5, t6, tS], tBlobsB),
    temp(tCR, [tC0, tC1, tC2, tC3, tC4, tC5, tC6, tCS], tBlobsC),
  ],
  [
    isrf(f0R, f0Top, [f0Edge, f06, f05, f04, f03, f02, f01], wave0R, wave0Z, stem2R),
    isrf(fAR, fATop, [fAEdge, fA6, fA5, fA4, fA3, fA2, fA1], waveAR, waveAZ, stem2R),
    isrf(fR, fTop, [fEdgeB, fB6, fB5, fB4, fB3, fB2, fB1], waveBR, waveBZ, stem2R),
    isrf(fCR, fCTop, [fCEdge, fC6, fC5, fC4, fC3, fC2, fC1], waveCR, waveCZ, stem2R),
  ],
  [
    co(c0R, [c0O, c0Y, c0G, c0C, c0S]),
    co(cAR, [cAO, cAY, cAG, cAC, cAS]),
    co(cBR, [cBO, cBY, cBG, cBC, cBS]),
    co(cCR, [cCO, cCY, cCG, cCC, cCS]),
  ],
];
const BARS = [barDust, barGas, null, barIsrf, barCo];

const color = (v: number) =>
  v < 0 ? `hsl(0,100%,${50 + v * 120}%)` : `hsl(${Math.min(v, 1) * 240},100%,50%)`;

function gradient(c: CanvasRenderingContext2D, x0: number, y0: number, x1: number, y1: number, v0: number, v1: number) {
  const g = c.createLinearGradient(x0, y0, x1, y1);
  for (let k = 0; k <= 6; k++) g.addColorStop(k / 6, color(v0 + ((v1 - v0) * k) / 6));
  return g;
}

const noPad = (s: any) => {
  s.paddingTop = 0; s.paddingBottom = 0; s.paddingLeft = 0; s.paddingRight = 0;
};

// Snap the drawn points to whole pixels, so neighbouring fill columns leave no seams.
const snapPlugin = {
  id: "snap",
  afterDatasetsUpdate(chart: any) {
    chart.data.datasets.forEach((ds: any, i: number) => {
      const half = ds.crisp ? 0.5 : 0;
      for (const p of chart.getDatasetMeta(i).data) p.x = Math.round(p.x) + half;
    });
  },
};

const framePlugin = (minorX: boolean) => ({
  id: "frame",
  afterDraw(chart: any) {
    const { ctx, chartArea: a, scales } = chart;
    ctx.save();
    ctx.strokeStyle = "#333";
    ctx.lineWidth = 1;
    ctx.beginPath();
    const hline = (v: number, len: number) => {
      const y = Math.round(scales.y.getPixelForValue(v)) + 0.5;
      ctx.moveTo(a.left, y); ctx.lineTo(a.left + len, y);
      ctx.moveTo(a.right, y); ctx.lineTo(a.right - len, y);
    };
    const vline = (v: number, len: number) => {
      const x = Math.round(scales.x.getPixelForValue(v)) + 0.5;
      ctx.moveTo(x, a.top); ctx.lineTo(x, a.top + len);
      ctx.moveTo(x, a.bottom); ctx.lineTo(x, a.bottom - len);
    };
    Y_MAJOR.forEach((v) => hline(v, 4));
    Y_MINOR.forEach((v) => hline(v, 2));
    X_MAJOR.forEach((v) => vline(v, 4));
    if (minorX) X_MINOR.forEach((v) => vline(v, 2));
    ctx.stroke();
    ctx.strokeStyle = "#444";
    ctx.strokeRect(a.left + 0.5, a.top + 0.5, a.right - a.left, a.bottom - a.top);
    ctx.restore();
  },
});

function buildDatasets(p: PanelCfg) {
  const sets: any[] = [];
  for (const b of p.blobs ?? []) {
    sets.push({
      data: [...b.pts, b.pts[0]].map(([x, y]) => ({ x, y })),
      fill: "shape", backgroundColor: b.fill, borderColor: "#111", borderWidth: 1, pointRadius: 0, tension: 0,
    });
  }
  for (const e of p.extra ?? []) {
    sets.push({
      data: e.r.map((x, i) => ({ x, y: e.z[i] })),
      crisp: true,
      fill: false, borderColor: e.color ?? "#222", borderWidth: e.width ?? 1, pointRadius: 0, tension: 0,
    });
  }
  const first = sets.length;
  p.lines.forEach((line, li) => {
    const zs = line ?? p.r.map(() => 0);
    const isTop = !!p.top && li === p.lines.length - 1;
    sets.push({
      data: p.r.map((x, i) => ({ x, y: zs[i] })),
      fill: li === 0 ? false : "-1",
      backgroundColor: color(p.v[li]),
      borderColor: p.c[li] ? "#1c1c1c" : "rgba(0,0,0,0)",
      borderWidth: 1,
      pointRadius: 0,
      tension: 0,
      segment:
        li === 0
          ? undefined
          : {
              borderDashOffset: (s: any) => s.p0DataIndex,
              backgroundColor: (s: any) => {
                const c = s.chart.ctx as CanvasRenderingContext2D;
                const i = s.p0DataIndex;
                const j = s.p1DataIndex;
                const P0 = s.p0, P1 = s.p1;
                if (isTop) {
                  if (P1.x <= P0.x) return color(p.top![i]);
                  return gradient(c, P0.x, 0, P1.x, 0, p.top![i], p.top![j]);
                }
                const low = s.chart.getDatasetMeta(first + li - 1).data;
                const L0 = low[i], L1 = low[j];
                const v0 = p.v[li - 1], v1 = p.v[li];
                const tx = P1.x - P0.x + (L1.x - L0.x);
                const ty = P1.y - P0.y + (L1.y - L0.y);
                const n = Math.hypot(tx, ty);
                if (tx <= 0 || n === 0) return color((v0 + v1) / 2);
                const nx = -ty / n, ny = tx / n;
                const mx = (L0.x + L1.x) / 2, my = (L0.y + L1.y) / 2;
                const dx = (P0.x + P1.x) / 2 - mx, dy = (P0.y + P1.y) / 2 - my;
                const d = dx * nx + dy * ny;
                if (Math.abs(d) < 0.4) return color((v0 + v1) / 2);
                return gradient(c, mx, my, mx + nx * d, my + ny * d, v0, v1);
              },
            },
    });
  });
  return sets;
}

function Panel({ row, col }: { row: number; col: number }) {
  const ref = useRef<HTMLCanvasElement>(null);
  const last = row === 4;
  useEffect(() => {
    const chart = new Chart(ref.current!, {
      type: "line",
      data: { datasets: buildDatasets(PANELS[row][col]) },
      options: {
        animation: false,
        responsive: false,
        events: [],
        layout: { autoPadding: false, padding: { top: 6, right: 12, left: 0, bottom: 0 } },
        plugins: { legend: { display: false }, tooltip: { enabled: false }, filler: { drawTime: "beforeDatasetsDraw", propagate: false } },
        scales: {
          x: {
            type: "linear", min: 0, max: 200,
            grid: { display: false, drawTicks: false }, border: { display: false },
            afterFit: (s: any) => { s.height = 30; noPad(s); },
            afterBuildTicks: (s: any) => { s.ticks = X_LABELS.map((value) => ({ value })); },
            ticks: { display: last, padding: 8, maxRotation: 0, autoSkip: false, color: INK, font: { family: FONT, size: 11.5 } },
          },
          y: {
            type: "linear", min: 0, max: 50,
            grid: { display: false, drawTicks: false }, border: { display: false },
            afterFit: (s: any) => { s.width = 40; noPad(s); },
            afterBuildTicks: (s: any) => { s.ticks = Y_MAJOR.map((value) => ({ value })); },
            ticks: { display: col === 0, padding: 7, autoSkip: false, color: INK, font: { family: FONT, size: 11.5 } },
          },
        },
      } as any,
      plugins: [snapPlugin, framePlugin(last)] as any,
    });
    return () => chart.destroy();
  }, [row, col, last]);
  return (
    <canvas
      ref={ref}
      width={212}
      height={196}
      style={{ position: "absolute", left: COL_X[col] - 40, top: ROW_Y[row] - 6, width: 212, height: 196 }}
    />
  );
}

function ColorBar({ row, cfg }: { row: number; cfg: any }) {
  const ref = useRef<HTMLCanvasElement>(null);
  useEffect(() => {
    const chart = new Chart(ref.current!, {
      type: "bar",
      data: {
        labels: ["scale"],
        datasets: [{
          data: [[10 ** cfg.min, 10 ** cfg.max]],
          barPercentage: 1,
          categoryPercentage: 1,
          backgroundColor: (c: any) => {
            const a = c.chart.chartArea;
            if (!a) return "#fff";
            return cfg.up
              ? gradient(c.chart.ctx, 0, a.bottom, 0, a.top, 0, 1)
              : gradient(c.chart.ctx, 0, a.bottom, 0, a.top, 1, 0);
          },
        }],
      },
      options: {
        animation: false,
        responsive: false,
        events: [],
        layout: { autoPadding: false, padding: { top: 6, bottom: 10, left: 0, right: 0 } },
        plugins: { legend: { display: false }, tooltip: { enabled: false } },
        scales: {
          x: { display: false },
          y: {
            type: "logarithmic", position: "right",
            min: 10 ** cfg.min, max: 10 ** cfg.max,
            border: { display: false },
            grid: { display: cfg.lines, color: "#222", drawTicks: false, z: 1 },
            afterFit: (s: any) => { s.width = 38; noPad(s); },
            afterBuildTicks: (s: any) => { s.ticks = cfg.ticks.map((e: number) => ({ value: 10 ** e })); },
            ticks: {
              padding: 9, autoSkip: false, color: INK, font: { family: FONT, size: 11.5 },
              callback: (_: any, i: number) => (cfg.labels.includes(cfg.ticks[i]) ? "10" : ""),
            },
          },
        },
      } as any,
      plugins: [{
        id: "barFrame",
        afterDraw(ch: any) {
          const { ctx, chartArea: a, scales } = ch;
          ctx.save();
          ctx.strokeStyle = "#333";
          ctx.lineWidth = 1;
          if (!cfg.lines) {
            ctx.beginPath();
            for (const e of cfg.ticks) {
              const y = Math.round(scales.y.getPixelForValue(10 ** e)) + 0.5;
              ctx.moveTo(a.left, y); ctx.lineTo(a.left + 2, y);
              ctx.moveTo(a.right, y); ctx.lineTo(a.right - 2, y);
            }
            ctx.stroke();
          }
          ctx.strokeRect(a.left + 0.5, a.top + 0.5, a.right - a.left - 1, a.bottom - a.top);
          // exponents beside the axis's "10" tick labels
          ctx.fillStyle = INK;
          ctx.font = `9.5px ${FONT}`;
          ctx.textAlign = "left";
          ctx.textBaseline = "middle";
          for (const e of cfg.labels) {
            const y = scales.y.getPixelForValue(10 ** e);
            ctx.fillText(String(e).replace("-", "−"), a.right + 9 + 12, y - 4);
          }
          ctx.restore();
        },
      }] as any,
    });
    return () => chart.destroy();
  }, [row, cfg]);
  return (
    <canvas
      ref={ref}
      width={54}
      height={176}
      style={{ position: "absolute", left: 777, top: ROW_Y[row] - 6, width: 54, height: 176 }}
    />
  );
}

const sub: React.CSSProperties = { fontSize: 11.5, verticalAlign: "-3px", lineHeight: 0, fontStyle: "normal" };
const sup: React.CSSProperties = { fontSize: 11.5, verticalAlign: "6px", lineHeight: 0 };
const TITLES: [number, React.ReactNode][] = [
  [33, <><i>ρ</i><span style={sub}>dust</span>&nbsp; (g cm<span style={sup}>−3</span>)</>],
  [223, <><i>ρ</i><span style={sub}>gas</span>&nbsp; (g cm<span style={sup}>−3</span>)</>],
  [417, <><i>T</i><span style={sub}>gas</span>/<i>T</i><span style={sub}>dust</span></>],
  [607, <><i>G</i><span style={sub}>0</span>&nbsp;(ISRF)</>],
  [798, <><i>n</i>(JCO)/<i>n</i><span style={sub}>gas</span></>],
];

export default function App() {
  return (
    <div style={{ position: "absolute", left: 0, top: 0, width: 831, height: 1008, overflow: "hidden", background: "#fff", fontFamily: FONT, color: INK, filter: "blur(0.4px)" }}>
      {PANELS.map((rowP, row) => rowP.map((_, col) => <Panel key={`${row}-${col}`} row={row} col={col} />))}
      {BARS.map((cfg, row) => (cfg ? <ColorBar key={row} row={row} cfg={cfg} /> : null))}
      {MODELS.map((m, i) => (
        <div key={m} style={{ position: "absolute", left: MODEL_CX[i] - 50, width: 100, top: -2, textAlign: "center", fontSize: 16, lineHeight: "18px" }}>{m}</div>
      ))}
      {TITLES.map(([y, t], i) => (
        <div key={i} style={{ position: "absolute", left: 43, top: y - 10, fontSize: 16.5, lineHeight: "20px", whiteSpace: "nowrap" }}>{t}</div>
      ))}
      {ROW_Y.map((y) => (
        <div key={y} style={{ position: "absolute", left: 8, top: y + 80, fontSize: 11.5, lineHeight: "12px", whiteSpace: "nowrap", transform: "translate(-50%,-50%) rotate(-90deg)" }}><i>z</i> (AU)</div>
      ))}
      {COL_X.map((x) => (
        <div key={x} style={{ position: "absolute", left: x + 80 - 40, width: 80, top: 994, textAlign: "center", fontSize: 11.5, lineHeight: "13px" }}><i>r</i> (AU)</div>
      ))}
    </div>
  );
}
